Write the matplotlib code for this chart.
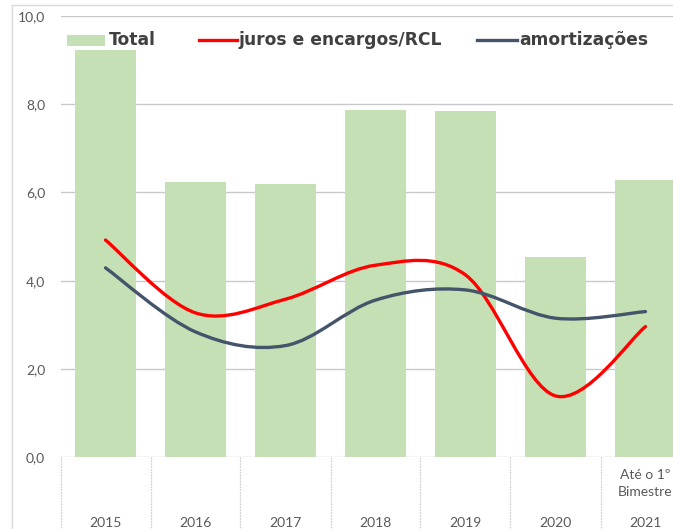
import matplotlib
matplotlib.use("Agg")
import matplotlib.pyplot as plt
import numpy as np
from matplotlib.path import Path
from matplotlib.patches import PathPatch, Rectangle
from matplotlib.lines import Line2D
import matplotlib.transforms as mtransforms

plt.rcParams['font.family'] = ['Lato', 'DejaVu Sans']

years = ["2015", "2016", "2017", "2018", "2019", "2020", "2021"]
sublabels = ["", "", "", "", "", "", "Até o 1º\nBimestre"]
total = [9.22, 6.23, 6.19, 7.87, 7.84, 4.54, 6.28]
juros = [4.92, 3.27, 3.58, 4.35, 4.13, 1.39, 2.96]
amort = [4.29, 2.84, 2.53, 3.56, 3.79, 3.15, 3.30]
yticks = [0, 2, 4, 6, 8, 10]
ytick_labels = ["0,0", "2,0", "4,0", "6,0", "8,0", "10,0"]
legend_labels = ["Total", "juros e encargos/RCL", "amortizações"]

W, H = 673, 529
fig = plt.figure(figsize=(W / 100, H / 100), dpi=100)
ax = fig.add_axes([60.5 / W, 71.7 / H, 630 / W, 441.6 / H])

x = np.arange(len(years))
ax.bar(x, total, width=0.68, color="#c5e0b4", zorder=2)


def smooth_path(xs, ys):
    xs = np.asarray(xs, float)
    ys = np.asarray(ys, float)
    n = len(xs)
    verts = [(xs[0], ys[0])]
    codes = [Path.MOVETO]
    for i in range(n - 1):
        p0 = np.array([xs[max(i - 1, 0)], ys[max(i - 1, 0)]])
        p1 = np.array([xs[i], ys[i]])
        p2 = np.array([xs[i + 1], ys[i + 1]])
        p3 = np.array([xs[min(i + 2, n - 1)], ys[min(i + 2, n - 1)]])
        c1 = p1 + (p2 - p0) / 6.0
        c2 = p2 - (p3 - p1) / 6.0
        verts += [tuple(c1), tuple(c2), tuple(p2)]
        codes += [Path.CURVE4, Path.CURVE4, Path.CURVE4]
    return Path(verts, codes)


for data, col in [(juros, "#ff0000"), (amort, "#44546a")]:
    pp = PathPatch(smooth_path(x, data), facecolor="none", edgecolor=col,
                   lw=2.4, capstyle="round", joinstyle="round", zorder=4)
    ax.add_patch(pp)

ax.set_xlim(-0.5, 6.5)
ax.set_ylim(0, 10)
ax.set_yticks(yticks)
ax.set_yticklabels(ytick_labels)
ax.tick_params(axis="y", length=0, pad=11, labelsize=10, labelcolor="#595959")
ax.set_xticks([])
for s in ax.spines.values():
    s.set_visible(False)
for yv in yticks:
    ax.axhline(yv, color="#c8c8c8", lw=1.0, zorder=1)

# category dividers and labels
trans = mtransforms.blended_transform_factory(ax.transData, ax.transAxes)
for b in np.arange(-0.5, len(years) + 0.5, 1.0):
    ax.plot([b, b], [0, -0.2], transform=trans, color="#d0d0d0", lw=0.9,
            ls=(0, (1.5, 0.8)), clip_on=False, zorder=1)
for i, (yr, sub) in enumerate(zip(years, sublabels)):
    ax.annotate(yr, xy=(i, 0), xycoords=trans, xytext=(0, -47),
                textcoords="offset points", ha="center", va="center",
                fontsize=10, color="#595959", annotation_clip=False)
    if sub:
        ax.annotate(sub, xy=(i, 0), xycoords=trans, xytext=(0, -19),
                    textcoords="offset points", ha="center", va="center",
                    fontsize=10, color="#595959", linespacing=1.55,
                    annotation_clip=False)

# outer chart border
fig.add_artist(Line2D([12 / W, 12 / W], [0, 1 - 5 / H], color="#d9d9d9", lw=1.0))
fig.add_artist(Line2D([12 / W, 1], [1 - 5 / H, 1 - 5 / H], color="#d9d9d9", lw=1.0))

# legend (manual placement)
ly = 1 - 40 / H
fig.add_artist(Rectangle((67 / W, 1 - 46 / H), 38 / W, 11 / H,
                         facecolor="#c5e0b4", edgecolor="none"))
fig.add_artist(Line2D([199 / W, 237 / W], [ly, ly], color="#ff0000", lw=2.4))
fig.add_artist(Line2D([477 / W, 517 / W], [ly, ly], color="#44546a", lw=2.4))
for tx, lab in zip([109, 239, 519], legend_labels):
    fig.text(tx / W, ly, lab, ha="left", va="center", fontsize=12.3,
             fontweight="bold", color="#404040", family="DejaVu Sans")

fig.savefig("out.png", dpi=100)
